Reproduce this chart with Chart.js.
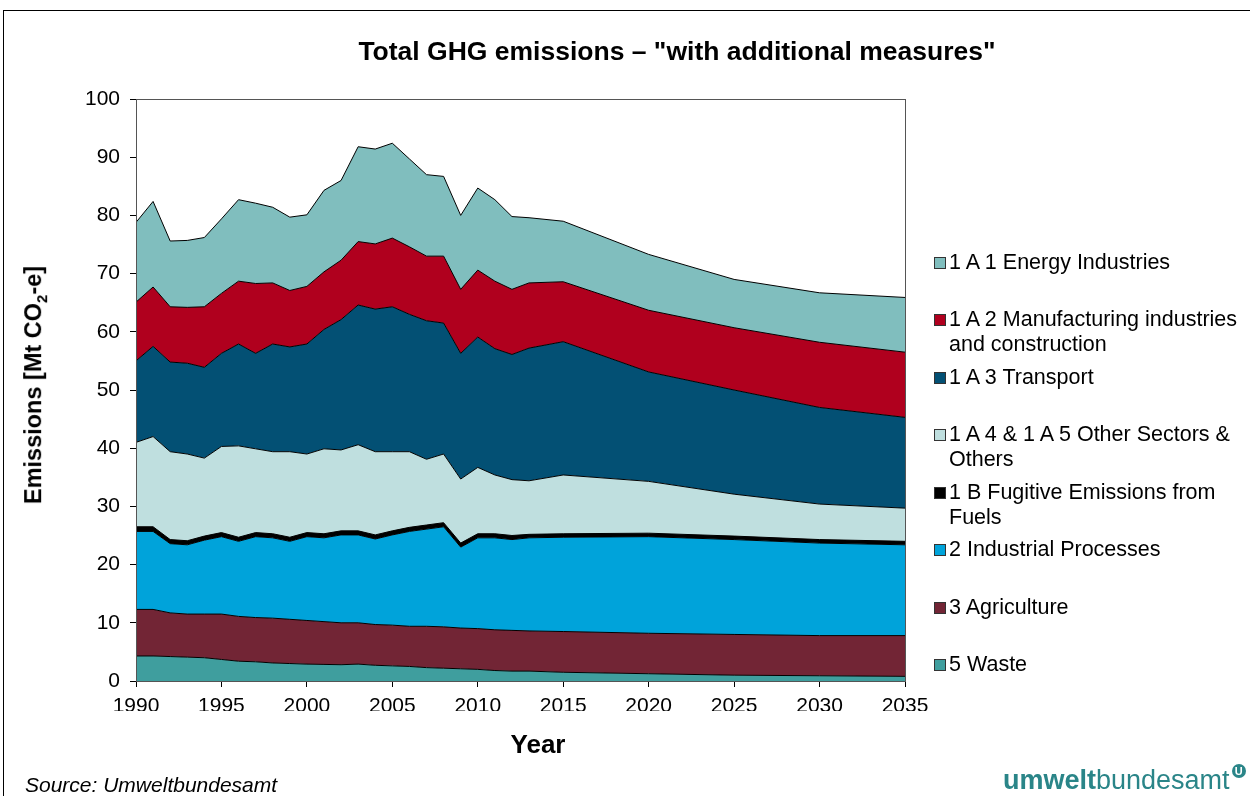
<!DOCTYPE html>
<html>
<head>
<meta charset="utf-8">
<script src="https://cdn.jsdelivr.net/npm/chart.js@4/dist/chart.umd.min.js"></script>
<style>
    body { margin: 0; background: #fff; font-family: Arial, "Liberation Sans", sans-serif; }
    .page { position: relative; width: 1250px; height: 796px; overflow: hidden; }
    .frame { position: absolute; left: 3px; top: 10px; width: 1260px; height: 800px; border: 1px solid #000; box-sizing: border-box; }
    #chart { position: absolute; left: 0; top: 0; }
    .title { position: absolute; left: 0; top: 36px; width: 1354px; text-align: center; font-size: 26.5px; font-weight: bold; }
    .ytitle { position: absolute; left: 35px; top: 385px; transform: translate(-50%, -50%) rotate(-90deg); font-size: 23.5px; font-weight: bold; white-space: nowrap; }
    .ytitle sub { font-size: 15px; }
    .xtitle { position: absolute; left: 438px; top: 729px; width: 200px; text-align: center; font-size: 26px; font-weight: bold; }
    .source { position: absolute; left: 25px; top: 773px; font-size: 21px; font-style: italic; }
    .logo { position: absolute; left: 1003px; top: 764px; font-size: 27px; color: #2a8588; white-space: nowrap; }
    .logo b { font-weight: bold; }
    .logo .u { display: inline-block; width: 14px; height: 14px; border-radius: 7px; background: #2a8588; color: #fff; font-size: 11px; font-weight: bold; line-height: 14px; text-align: center; vertical-align: 14px; margin-left: 2px; }
    .legend { position: absolute; left: 934px; top: 0; }
    .legend-item { position: absolute; left: 0; width: 316px; font-size: 21.5px; line-height: 25px; padding-left: 15px; white-space: nowrap; }
    .legend-item i { position: absolute; left: 0; top: 7px; width: 10px; height: 10px; border: 1px solid #333; }
</style>
</head>
<body>
<div class="page">
    <div class="frame"></div>
    <canvas id="chart" width="1250" height="796"></canvas>
    <div class="title">Total GHG emissions – "with additional measures"</div>
    <div class="ytitle">Emissions [Mt CO<sub>2</sub>-e]</div>
    <div class="xtitle">Year</div>
    <div class="source">Source: Umweltbundesamt</div>
    <div class="logo"><b>umwelt</b>bundesamt<span class="u">U</span></div>
    <div class="legend" id="legend"></div>
</div>
<script>
// DATA
const years = [1990, 1991, 1992, 1993, 1994, 1995, 1996, 1997, 1998, 1999, 2000, 2001, 2002, 2003, 2004, 2005, 2006, 2007, 2008, 2009, 2010, 2011, 2012, 2013, 2015, 2020, 2025, 2030, 2035]

const waste = [4.3, 4.3, 4.2, 4.1, 4.0, 3.7, 3.4, 3.3, 3.1, 3.0, 2.9, 2.85, 2.8, 2.9, 2.7, 2.6, 2.5, 2.3, 2.2, 2.1, 2.0, 1.8, 1.7, 1.7, 1.5, 1.25, 1.0, 0.9, 0.8]
const agriculture = [8.0, 8.0, 7.5, 7.4, 7.5, 7.8, 7.7, 7.6, 7.7, 7.6, 7.5, 7.35, 7.2, 7.1, 7.0, 7.0, 6.9, 7.1, 7.1, 7.0, 7.0, 7.0, 7.0, 6.9, 7.0, 6.95, 7.0, 6.9, 7.0]
const industrial = [13.4, 13.4, 11.9, 11.9, 12.7, 13.3, 12.9, 13.9, 13.8, 13.4, 14.4, 14.4, 15.1, 15.1, 14.7, 15.5, 16.3, 16.7, 17.2, 13.9, 15.6, 15.8, 15.6, 16.0, 16.2, 16.6, 16.3, 15.9, 15.6]
const fugitive = [0.8, 0.8, 0.7, 0.7, 0.7, 0.7, 0.7, 0.7, 0.7, 0.7, 0.7, 0.7, 0.7, 0.7, 0.7, 0.7, 0.7, 0.7, 0.7, 0.7, 0.7, 0.7, 0.7, 0.6, 0.6, 0.6, 0.6, 0.6, 0.6]
const otherSectors = [14.5, 15.5, 15.1, 14.9, 13.4, 14.8, 15.7, 14.4, 14.1, 14.7, 13.5, 14.6, 13.9, 14.8, 14.3, 13.6, 13.0, 11.3, 11.8, 11.0, 11.4, 10.1, 9.6, 9.2, 10.1, 8.9, 7.2, 6.1, 5.7]
const transport = [14.0, 15.5, 15.4, 15.6, 15.6, 16.0, 17.5, 16.4, 18.5, 18.0, 18.9, 20.5, 22.4, 24.0, 24.5, 24.9, 23.6, 23.8, 22.5, 21.6, 22.4, 21.7, 21.5, 22.8, 22.9, 18.8, 17.9, 16.6, 15.6]
const manufacturing = [10.1, 10.2, 9.5, 9.6, 10.4, 10.3, 10.8, 12.0, 10.5, 9.7, 9.9, 9.9, 10.2, 10.9, 11.2, 11.8, 11.6, 11.1, 11.5, 11.0, 11.5, 11.6, 11.2, 11.2, 10.3, 10.6, 10.7, 11.2, 11.2]
const energy = [13.7, 14.7, 11.3, 11.5, 11.9, 12.8, 14.0, 13.8, 13.0, 12.6, 12.3, 14.0, 13.7, 16.3, 16.3, 16.3, 15.1, 14.0, 13.7, 12.7, 14.1, 14.0, 12.5, 11.2, 10.4, 9.6, 8.3, 8.5, 9.4]

const yTicks = [0, 10, 20, 30, 40, 50, 60, 70, 80, 90, 100]
const xTicks = [1990, 1995, 2000, 2005, 2010, 2015, 2020, 2025, 2030, 2035]

// bottom to top
const series = [
    { label: '5 Waste', data: waste, color: '#3f9e9e' },
    { label: '3 Agriculture', data: agriculture, color: '#722535' },
    { label: '2 Industrial Processes', data: industrial, color: '#00a3da' },
    { label: '1 B Fugitive Emissions from\nFuels', data: fugitive, color: '#000000' },
    { label: '1 A 4 & 1 A 5 Other Sectors &\nOthers', data: otherSectors, color: '#bfdfdf' },
    { label: '1 A 3 Transport', data: transport, color: '#035074' },
    { label: '1 A 2 Manufacturing industries\nand construction', data: manufacturing, color: '#b0001e' },
    { label: '1 A 1 Energy Industries', data: energy, color: '#80bebe' },
]

// LEGEND (top to bottom)
const legendTops = [250, 307, 365, 422, 480, 537, 595, 652]
const legendEl = document.getElementById('legend')
series.slice().reverse().forEach((s, i) => {
    const item = document.createElement('div')
    item.className = 'legend-item'
    item.style.top = `${legendTops[i]}px`
    item.innerHTML = `<i style="background:${s.color}"></i>` + s.label.replace('\n', '<br>')
    legendEl.appendChild(item)
})

// PLOT BORDER
const plotBorder = {
    id: 'plotBorder',
    afterDatasetsDraw(chart) {
        const { ctx, chartArea } = chart
        ctx.save()
        ctx.strokeStyle = '#555'
        ctx.lineWidth = 1
        ctx.strokeRect(chartArea.left + 0.5, chartArea.top + 0.5, chartArea.right - chartArea.left, chartArea.bottom - chartArea.top)
        ctx.restore()
    }
}

new Chart(document.getElementById('chart'), {
    type: 'line',
    data: {
        datasets: series.map((s, i) => ({
            label: s.label,
            data: s.data.map((v, j) => ({ x: years[j], y: v })),
            backgroundColor: s.color,
            borderColor: '#000',
            borderWidth: 1,
            pointRadius: 0,
            tension: 0,
            fill: i === 0 ? 'origin' : '-1',
        }))
    },
    plugins: [plotBorder],
    options: {
        responsive: false,
        animation: false,
        plugins: {
            legend: { display: false },
            tooltip: { enabled: false },
        },
        layout: {
            padding: { left: 0, top: 99, right: 345, bottom: 85 }
        },
        scales: {
            x: {
                type: 'linear',
                min: 1990,
                max: 2035,
                afterFit: (scale) => { scale.height = 30 },
                afterBuildTicks: (scale) => { scale.ticks = xTicks.map(v => ({ value: v })) },
                ticks: {
                    color: '#000',
                    font: { family: 'Arial', size: 21 },
                    padding: 7,
                    maxRotation: 0,
                    callback: (v) => String(v),
                },
                grid: { display: true, drawOnChartArea: false, drawTicks: true, tickLength: 6, color: '#000' },
                border: { display: true, color: '#000' },
            },
            y: {
                stacked: true,
                min: 0,
                max: 100,
                afterFit: (scale) => { scale.width = 136 },
                afterBuildTicks: (scale) => { scale.ticks = yTicks.map(v => ({ value: v })) },
                ticks: {
                    color: '#000',
                    font: { family: 'Arial', size: 21 },
                    padding: 10,
                },
                grid: { display: true, drawOnChartArea: false, drawTicks: true, tickLength: 6, color: '#000' },
                border: { display: true, color: '#000' },
            }
        }
    }
})
</script>
</body>
</html>
